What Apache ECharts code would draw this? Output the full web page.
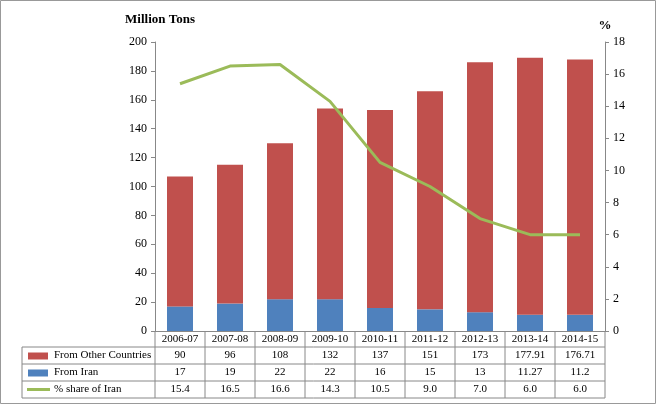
<!DOCTYPE html>
<html><head><meta charset="utf-8">
<script src="https://cdn.jsdelivr.net/npm/echarts@6/dist/echarts.min.js"></script>
<style>html,body{margin:0;padding:0;background:#fff}#c{width:656px;height:404px}</style>
</head><body><div id="c"></div>
<script>
const categories=['2006-07','2007-08','2008-09','2009-10','2010-11','2011-12','2012-13','2013-14','2014-15'];
const fromOther=[90,96,108,132,137,151,173,177.91,176.71];
const fromIran=[17,19,22,22,16,15,13,11.27,11.2];
const shareIran=[15.4,16.5,16.6,14.3,10.5,9.0,7.0,6.0,6.0];
const otherLabels=['90','96','108','132','137','151','173','177.91','176.71'];
const iranLabels=['17','19','22','22','16','15','13','11.27','11.2'];
const shareLabels=['15.4','16.5','16.6','14.3','10.5','9.0','7.0','6.0','6.0'];
const seriesNames=['From Other Countries','From Iran','% share of Iran'];

const L=155,R=605,T=42,B=331,W=(R-L)/categories.length;
const F='"Liberation Serif","Times New Roman",serif';
const rows=[B,347,364,381,398];
const g=[];
const ln=(x1,y1,x2,y2)=>g.push({type:'line',shape:{x1,y1,x2,y2},style:{stroke:'#888',lineWidth:1},silent:true});
// table grid
for(let i=1;i<rows.length;i++) ln(22,rows[i],R,rows[i]);
ln(22,rows[1],22,rows[4]);
for(let j=0;j<=categories.length;j++) ln(L+j*W,B,L+j*W,rows[4]);
categories.forEach((c,j)=>g.push({type:'text',style:{text:c,x:L+(j+.5)*W,y:(rows[0]+rows[1])/2,align:'center',verticalAlign:'middle',font:'11px '+F,fill:'#000'}}));
const labs=[otherLabels,iranLabels,shareLabels];
labs.forEach((arr,r)=>{
  const cy=(rows[r+1]+rows[r+2])/2;
  arr.forEach((t,j)=>g.push({type:'text',style:{text:t,x:L+(j+.5)*W,y:cy,align:'center',verticalAlign:'middle',font:'11px '+F,fill:'#000'}}));
  g.push({type:'text',style:{text:seriesNames[r],x:54,y:cy,verticalAlign:'middle',font:'11px '+F,fill:'#000'}});
  if(r<2) g.push({type:'rect',shape:{x:28,y:cy-3,width:20,height:7},style:{fill:r?'#4F81BD':'#C0504D'}});
  else g.push({type:'line',shape:{x1:27,y1:cy,x2:50,y2:cy},style:{stroke:'#9BBB59',lineWidth:3}});
});
g.push({type:'rect',shape:{x:0.5,y:0.5,width:655,height:403},style:{fill:'none',stroke:'#999',lineWidth:1}});

const chart=echarts.init(document.getElementById('c'));
chart.setOption({
  animation:false,
  textStyle:{fontFamily:F},
  grid:{left:L,right:656-R,top:T,bottom:404-B},
  xAxis:{type:'category',data:categories,axisLabel:{show:false},axisTick:{show:false},axisLine:{lineStyle:{color:'#888'}}},
  yAxis:[
    {type:'value',min:0,max:200,interval:20,name:'Million Tons',nameLocation:'end',nameGap:16,
     nameTextStyle:{fontWeight:'bold',fontSize:13,color:'#000',fontFamily:F,align:'right',padding:[0,-40,0,0]},
     axisLine:{show:true,lineStyle:{color:'#888'}},axisTick:{show:true,length:4},splitLine:{show:false},
     axisLabel:{color:'#000',fontSize:12,fontFamily:F}},
    {type:'value',min:0,max:18,interval:2,name:'%',nameGap:10,
     nameTextStyle:{fontWeight:'bold',fontSize:13,color:'#000',fontFamily:F},
     axisLine:{show:true,lineStyle:{color:'#888'}},axisTick:{show:true,length:4},splitLine:{show:false},
     axisLabel:{color:'#000',fontSize:12,fontFamily:F}}
  ],
  series:[
    {name:seriesNames[1],type:'bar',stack:'s',data:fromIran,barWidth:26,itemStyle:{color:'#4F81BD'}},
    {name:seriesNames[0],type:'bar',stack:'s',data:fromOther,barWidth:26,itemStyle:{color:'#C0504D'}},
    {name:seriesNames[2],type:'line',yAxisIndex:1,data:shareIran,symbol:'none',lineStyle:{color:'#9BBB59',width:3}}
  ],
  graphic:g
});
</script></body></html>
